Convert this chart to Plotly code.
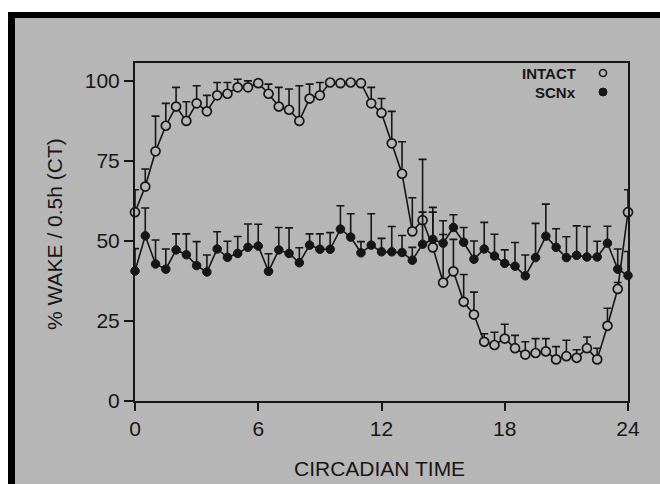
import plotly.graph_objects as go

# ---------------- data ----------------
hours = [0, 0.5, 1, 1.5, 2, 2.5, 3, 3.5, 4, 4.5, 5, 5.5, 6, 6.5, 7, 7.5, 8, 8.5,
         9, 9.5, 10, 10.5, 11, 11.5, 12, 12.5, 13, 13.5, 14, 14.5, 15, 15.5, 16,
         16.5, 17, 17.5, 18, 18.5, 19, 19.5, 20, 20.5, 21, 21.5, 22, 22.5, 23,
         23.5, 24]

intact = [59, 67, 78, 86, 92, 87.5, 93, 90.5, 95.5, 96, 98, 98, 99.3, 96, 92, 91,
          87.5, 94.5, 95.5, 99.5, 99.3, 99.5, 99.3, 93, 90, 80.5, 71, 53, 56.5, 48,
          37, 40.5, 31, 27, 18.5, 17.5, 19.5, 16.5, 14.5, 15, 15.5, 13, 14, 13.5,
          16.5, 13, 23.5, 35, 59]

intact_err = [7, 5.5, 11, 7, 6, 6, 5.5, 5, 4, 3.5, 2.5, 2, 1, 3, 6, 6.5, 11, 4.5,
              4, 0.5, 0.5, 0.5, 0.5, 5, 4.5, 10, 10, 10.5, 19, 11, 15, 10, 8.5, 7,
              2.5, 4, 4.5, 4, 4, 4.5, 4, 4, 5, 2.5, 3.5, 3.5, 5.5, 2, 7]

scnx = [40.6, 51.6, 42.8, 41.2, 47.2, 45.7, 42.3, 40.3, 47.5, 44.9, 46.1, 48, 48.4,
        40.5, 47.2, 46.1, 43.2, 48.7, 47.4, 47.4, 53.7, 51.2, 46.3, 48.7, 46.6, 46.6,
        46.4, 44, 49, 50.5, 49.3, 54.2, 49.6, 44.3, 47.5, 45.3, 43, 42.1, 39.1, 44.8,
        51.5, 48, 44.8, 45.5, 45, 45, 49.3, 41.2, 39.2]

scnx_err = [7, 8.7, 7.5, 6.3, 5, 6.5, 7.5, 5.3, 5.4, 5, 5.3, 7.3, 6.8, 5.5, 7, 8,
            4.7, 3.5, 4.8, 5.2, 7.3, 7.3, 3.5, 9.8, 4.2, 7.9, 5.3, 4, 10, 10, 7, 4,
            4.6, 5.7, 8.3, 6.8, 4.2, 7.4, 6.5, 10.7, 10, 5.8, 6.5, 9.2, 9.5, 4.9,
            5.3, 6.3, 7.5]

x_ticks = [0, 6, 12, 18, 24]
y_ticks = [0, 25, 50, 75, 100]
series_names = ["INTACT", "SCNx"]

# ---------------- style ----------------
BG = "#b6b6b6"
INK = "#161616"
FONT = "Liberation Sans, Arial, sans-serif"

W, H = 660, 484
L, R, T, B = 135, 32, 63, 83
PW, PH = W - L - R, H - T - B


def px(xp):
    return (xp - L) / PW


def py(yp):
    return (H - B - yp) / PH


fig = go.Figure()

fig.add_trace(go.Scatter(
    x=hours, y=intact, mode="lines+markers", name=series_names[0],
    cliponaxis=False,
    line=dict(color=INK, width=1.6),
    marker=dict(symbol="circle", size=9, color=BG, line=dict(color=INK, width=1.7)),
    error_y=dict(type="data", symmetric=False, array=intact_err,
                 arrayminus=[0] * len(intact_err), color=INK, thickness=1.6, width=4),
))

fig.add_trace(go.Scatter(
    x=hours, y=scnx, mode="lines+markers", name=series_names[1],
    cliponaxis=False,
    line=dict(color=INK, width=1.6),
    marker=dict(symbol="circle", size=8.5, color=INK, line=dict(color=INK, width=1)),
    error_y=dict(type="data", symmetric=False, array=scnx_err,
                 arrayminus=[0] * len(scnx_err), color=INK, thickness=1.6, width=4),
))

axis_common = dict(
    showgrid=False, zeroline=False, showline=True, linecolor=INK, linewidth=2,
    mirror=True, ticks="outside", tickcolor=INK, tickwidth=2,
    tickfont=dict(family=FONT, size=21, color=INK),
)

fig.update_xaxes(range=[0, 24], tickvals=x_ticks, ticklen=8, **axis_common)
fig.update_yaxes(range=[0, 105.6], tickvals=y_ticks, ticklen=9, **axis_common)

annotations = [
    dict(text="CIRCADIAN TIME", x=px(379), y=py(468), xref="paper", yref="paper",
         showarrow=False, font=dict(family=FONT, size=21, color=INK),
         xanchor="center", yanchor="middle"),
    dict(text="% WAKE / 0.5h (CT)", x=px(54), y=py(234), xref="paper", yref="paper",
         showarrow=False, textangle=-90, font=dict(family=FONT, size=21, color=INK),
         xanchor="center", yanchor="middle"),
    dict(text="<b>" + series_names[0] + "</b>", x=px(578), y=py(73), xref="paper",
         yref="paper", showarrow=False, font=dict(family=FONT, size=15, color=INK),
         xanchor="right", yanchor="middle"),
    dict(text="<b>" + series_names[1] + "</b>", x=px(578), y=py(92), xref="paper",
         yref="paper", showarrow=False, font=dict(family=FONT, size=15, color=INK),
         xanchor="right", yanchor="middle"),
]

shapes = [
    # white margins of the scan
    dict(type="rect", xref="paper", yref="paper", x0=px(0), x1=px(W), y0=py(0), y1=py(12),
         fillcolor="white", line=dict(width=0), layer="above"),
    dict(type="rect", xref="paper", yref="paper", x0=px(0), x1=px(8), y0=py(0), y1=py(H),
         fillcolor="white", line=dict(width=0), layer="above"),
    # black frame edges
    dict(type="rect", xref="paper", yref="paper", x0=px(8), x1=px(W), y0=py(12), y1=py(18),
         fillcolor="black", line=dict(width=0), layer="above"),
    dict(type="rect", xref="paper", yref="paper", x0=px(8), x1=px(15), y0=py(12), y1=py(H),
         fillcolor="black", line=dict(width=0), layer="above"),
    # legend symbols
    dict(type="circle", xref="paper", yref="paper", xsizemode="pixel", ysizemode="pixel",
         xanchor=px(603), yanchor=py(73), x0=-3.5, x1=3.5, y0=-3.5, y1=3.5,
         fillcolor=BG, line=dict(color=INK, width=1.6)),
    dict(type="circle", xref="paper", yref="paper", xsizemode="pixel", ysizemode="pixel",
         xanchor=px(603), yanchor=py(92), x0=-4, x1=4, y0=-4, y1=4,
         fillcolor=INK, line=dict(color=INK, width=1)),
]

fig.update_layout(
    width=W, height=H,
    margin=dict(l=L, r=R, t=T, b=B),
    paper_bgcolor=BG, plot_bgcolor=BG,
    showlegend=False,
    font=dict(family=FONT, color=INK),
    annotations=annotations,
    shapes=shapes,
)

fig.write_html("out.html")
